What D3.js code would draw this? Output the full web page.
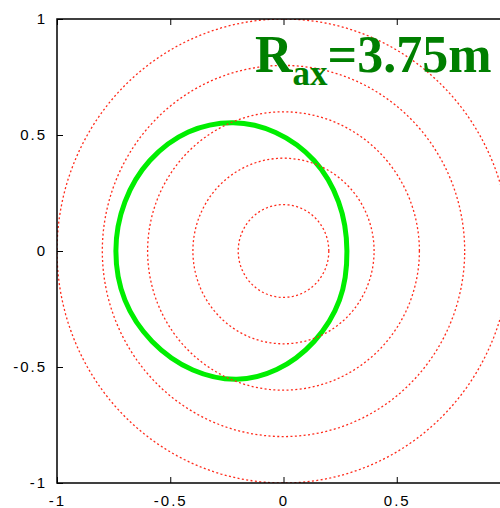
<!DOCTYPE html>
<html>
<head>
<meta charset="utf-8">
<script src="https://cdn.jsdelivr.net/npm/d3@7"></script>
<style>
  body { margin: 0; background: #fff; }
  svg { display: block; }
  .tick text { font-family: "Liberation Sans", Arial, sans-serif; font-size: 15px; letter-spacing: 2px; fill: #000; }
</style>
</head>
<body>
<svg id="chart" width="500" height="508"></svg>
<script>
'use strict';

// axis ticks (x = 1 lies past the right edge of the picture)
var xTicks = [-1, -0.5, 0, 0.5];
var yTicks = [-1, -0.5, 0, 0.5, 1];

// radii of the dotted reference circles
var radii = [0.2, 0.4, 0.6, 0.8, 1.0];

// closed flux surface (counter-clockwise from right)
var surfaceX = [0.28, 0.243, 0.135, -0.035, -0.222, -0.42, -0.59, -0.70, -0.74,
                -0.70, -0.58, -0.40, -0.206, -0.03, 0.135, 0.247];
var surfaceY = [0, 0.212, 0.39, 0.511, 0.553, 0.513, 0.39, 0.212, 0,
                -0.212, -0.39, -0.513, -0.553, -0.511, -0.39, -0.212];

var label = { main: 'R', sub: 'ax', rest: '=3.75m' };

var svg = d3.select('#chart');

var x = d3.scaleLinear().domain([-1, 1]).range([57, 510]);
var y = d3.scaleLinear().domain([-1, 1]).range([483, 19]);

// clip everything to the plot frame
svg.append('clipPath').attr('id', 'plotClip')
  .append('rect')
  .attr('x', x(-1)).attr('y', y(1))
  .attr('width', x(1) - x(-1)).attr('height', y(-1) - y(1));

var plot = svg.append('g').attr('clip-path', 'url(#plotClip)');

// green surface
var line = d3.line()
  .x(function(d) { return x(d[0]); })
  .y(function(d) { return y(d[1]); })
  .curve(d3.curveCatmullRomClosed.alpha(0.5));

plot.append('path')
  .datum(d3.zip(surfaceX, surfaceY))
  .attr('d', line)
  .attr('fill', 'none')
  .attr('stroke', '#00ee00')
  .attr('stroke-width', 5);

// red dotted circles
var theta = d3.range(0, 361, 2);
radii.forEach(function(r) {
  plot.append('path')
    .datum(theta.map(function(t) {
      var a = t * Math.PI / 180;
      return [r * Math.cos(a), r * Math.sin(a)];
    }))
    .attr('d', d3.line()
      .x(function(d) { return x(d[0]); })
      .y(function(d) { return y(d[1]); }))
    .attr('fill', 'none')
    .attr('stroke', '#ff2a1a')
    .attr('stroke-width', 1.3)
    .attr('stroke-dasharray', '2,2.4');
});

// axes, ticks pointing inward
var axisStyle = function(g) {
  g.selectAll('.domain').remove();
  g.selectAll('.tick line').attr('stroke', '#000').attr('stroke-width', 1);
};

svg.append('g')
  .attr('transform', 'translate(0,' + y(-1) + ')')
  .call(d3.axisBottom(x).tickValues(xTicks).tickSize(-6).tickSizeOuter(0).tickPadding(12)
    .tickFormat(String))
  .call(axisStyle);

svg.append('g')
  .attr('transform', 'translate(' + x(-1) + ',0)')
  .call(d3.axisLeft(y).tickValues(yTicks).tickSize(-6).tickSizeOuter(0).tickPadding(10)
    .tickFormat(String))
  .call(axisStyle);

svg.append('g')
  .attr('transform', 'translate(0,' + y(1) + ')')
  .call(d3.axisTop(x).tickValues(xTicks).tickSize(-6).tickSizeOuter(0).tickFormat(''))
  .call(axisStyle);

// frame
svg.append('rect')
  .attr('x', x(-1)).attr('y', y(1))
  .attr('width', x(1) - x(-1)).attr('height', y(-1) - y(1))
  .attr('fill', 'none')
  .attr('stroke', '#000')
  .attr('stroke-width', 1.5);

// label
var t = svg.append('text')
  .attr('x', 255)
  .attr('y', 72)
  .attr('fill', '#007f00')
  .style('font-family', '"Liberation Serif", "Times New Roman", serif')
  .style('font-weight', 'bold')
  .style('font-size', '52px');

t.append('tspan').text(label.main);
t.append('tspan').attr('dy', 13).style('font-size', '35px').text(label.sub);
t.append('tspan').attr('dy', -13).text(label.rest);
</script>
</body>
</html>
